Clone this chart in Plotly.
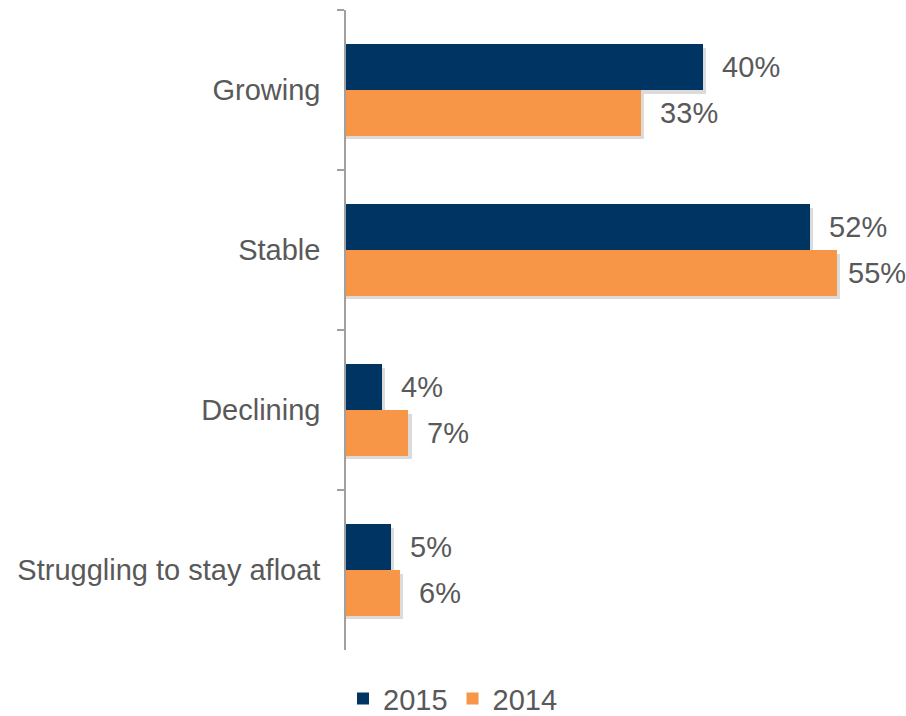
import plotly.graph_objects as go

categories = ["Growing", "Stable", "Declining", "Struggling to stay afloat"]
values_2015 = [40, 52, 4, 5]
values_2014 = [33, 55, 7, 6]

NAVY = "#003463"
ORANGE = "#F79646"
TEXT = "#595959"
FONT = "Liberation Sans, Arial"
FS = 29
BAR_W = 0.285
X_MAX = 62.75


def label(v):
    # labels close to the right edge sit tighter against their bar
    pad = " " if v > X_MAX - 8 else "  "
    return f"{pad}{v}%"


fig = go.Figure()

# soft drop shadows under each bar
for vals, off in [(values_2015, -BAR_W), (values_2014, 0.0)]:
    fig.add_trace(go.Bar(
        y=categories, x=[v + 0.35 for v in vals], orientation="h",
        width=BAR_W, offset=off + 0.022,
        marker=dict(color="rgba(0,0,0,0.14)", line=dict(width=0)),
        showlegend=False, hoverinfo="skip",
    ))

for name, vals, color, off in [("2015", values_2015, NAVY, -BAR_W),
                               ("2014", values_2014, ORANGE, 0.0)]:
    fig.add_trace(go.Bar(
        name=name, y=categories, x=vals, orientation="h",
        width=BAR_W, offset=off,
        marker=dict(color=color, line=dict(width=0)),
        text=[label(v) for v in vals], textposition="outside",
        textfont=dict(size=FS, color=TEXT, family=FONT),
        cliponaxis=False,
    ))

fig.update_layout(
    width=906, height=716,
    barmode="overlay",
    plot_bgcolor="white", paper_bgcolor="white",
    margin=dict(l=346, r=0, t=10, b=66, autoexpand=False),
    font=dict(family=FONT, size=FS, color=TEXT),
    xaxis=dict(range=[0, X_MAX], visible=False, fixedrange=True),
    yaxis=dict(
        autorange="reversed", showline=True, linecolor="#A0A0A0", linewidth=1.5,
        ticks="outside", tickson="boundaries", ticklen=7, tickcolor="#A0A0A0",
        tickwidth=1.5, showgrid=False, zeroline=False,
        tickfont=dict(size=FS, color=TEXT, family=FONT), ticklabelstandoff=18,
    ),
    legend=dict(
        orientation="h", x=0.5, xanchor="center", xref="container",
        y=-0.076, yanchor="middle", yref="paper",
        font=dict(size=FS, color=TEXT, family=FONT), itemwidth=30,
        traceorder="normal",
    ),
    bargap=0,
)

fig.write_html("out.html")
